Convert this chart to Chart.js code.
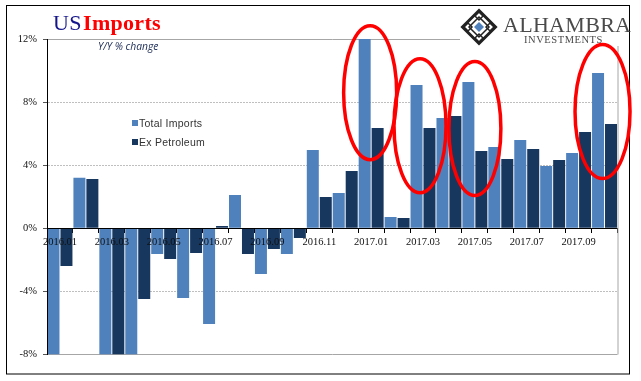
<!DOCTYPE html>
<html lang="en">
<head>
  <meta charset="UTF-8">
  <title>US Imports</title>
  <script src="https://cdn.jsdelivr.net/npm/chart.js"></script>
  <style>
    html, body { margin: 0; padding: 0; background: #fff; }
    #wrap { position: relative; width: 641px; height: 381px; overflow: hidden; }
    #wrap div { position: absolute; white-space: nowrap; }
    #title { left: 53px; top: 10px; font: bold 22px "Liberation Serif"; letter-spacing: 0.3px; word-spacing: -4.5px; }
    #title .us { color: #14148c; font-weight: normal; }
    #title .imp { color: #f00; }
    #sub { left: 98px; top: 39px; font: italic 10.3px "Open Sans"; color: #1a2a55; }
    .leg { left: 139px; font: 10.5px "Liberation Sans"; color: #333; letter-spacing: 0.25px; }
    .swatch { left: 132px; width: 6px; height: 6px; }
    #logo1 { left: 503px; top: 12px; font: 22px "Liberation Serif"; color: #4a4a4a; letter-spacing: 0.3px; }
    #logo2 { left: 524px; top: 34px; font: 10.5px "Liberation Serif"; color: #4a4a4a; letter-spacing: 0.55px; }
  </style>
</head>
<body>
  <div id="wrap">
    <canvas id="importsChart" width="641" height="381"></canvas>
    <div id="title"><span class="us">US</span> <span class="imp">Imports</span></div>
    <div id="sub">Y/Y % change</div>
    <div class="swatch" style="top:120px;background:#4f81bd"></div>
    <div class="leg" id="leg0" style="top:117px"></div>
    <div class="swatch" style="top:139px;background:#17375e"></div>
    <div class="leg" id="leg1" style="top:136px"></div>
    <div id="logo1">ALHAMBRA</div>
    <div id="logo2">INVESTMENTS</div>
  </div>

  <script>
    const months = ['2016.01','2016.02','2016.03','2016.04','2016.05','2016.06','2016.07','2016.08','2016.09','2016.10','2016.11','2016.12',
                    '2017.01','2017.02','2017.03','2017.04','2017.05','2017.06','2017.07','2017.08','2017.09','2017.10'];
    const totalImports = [-8, 3.2, -8, -8, -1.63, -4.42, -6.07, 2.11, -2.9, -1.63, 4.97, 2.24,
                          12, 0.72, 9.09, 6.99, 9.28, 5.16, 5.6, 3.95, 4.77, 9.85];
    const exPetroleum = [-2.39, 3.13, -8, -4.48, -1.94, -1.56, 0.15, -1.63, -1.31, -0.61, 1.98, 3.63,
                         6.36, 0.66, 6.36, 7.12, 4.9, 4.39, 5.03, 4.33, 6.1, 6.61];
    const seriesNames = ['Total Imports', 'Ex Petroleum'];

    // red hand-drawn circles: category, centre value, pixel nudge, radii
    const rings = [
      { month: '2017.01', value: 8.6, dx: -1, rx: 26.5, ry: 67 },
      { month: '2017.03', value: 6.5, dx: -3, rx: 26, ry: 67 },
      { month: '2017.05', value: 6.33, dx: 0, rx: 26, ry: 67 },
      { month: '2017.10', value: 7.4, dx: -2, rx: 27.5, ry: 67 }
    ];

    document.getElementById('leg0').textContent = seriesNames[0];
    document.getElementById('leg1').textContent = seriesNames[1];

    function drawLogo(c) {
      // white patch hides the top gridline behind the logo
      c.fillStyle = '#fff';
      c.fillRect(460, 7, 168, 39);
      const cx = 479, cy = 27;
      c.strokeStyle = '#222';
      const diamond = (r) => {
        c.beginPath();
        c.moveTo(cx, cy - r); c.lineTo(cx + r, cy); c.lineTo(cx, cy + r); c.lineTo(cx - r, cy);
        c.closePath();
      };
      c.lineWidth = 3;
      diamond(16.5); c.stroke();
      c.lineWidth = 1.5;
      diamond(10); c.stroke();
      [[0, -11], [11, 0], [0, 11], [-11, 0]].forEach(([dx, dy]) => {
        c.beginPath();
        c.moveTo(cx + dx - 4, cy + dy); c.lineTo(cx + dx, cy + dy - 4);
        c.lineTo(cx + dx + 4, cy + dy); c.lineTo(cx + dx, cy + dy + 4);
        c.closePath();
        c.stroke();
      });
      c.fillStyle = '#4f81bd';
      diamond(5); c.fill();
    }

    const extras = {
      id: 'extras',
      afterDraw(chart) {
        const c = chart.ctx, area = chart.chartArea, sx = chart.scales.x, sy = chart.scales.y;
        c.save();
        // outer frame
        c.strokeStyle = '#000';
        c.lineWidth = 1;
        c.strokeRect(6.5, 5.5, 623, 368.5);
        // right edge of the plot
        c.strokeStyle = '#a6a6a6';
        c.beginPath();
        c.moveTo(area.right + 0.5, area.top);
        c.lineTo(area.right + 0.5, area.bottom);
        c.stroke();
        drawLogo(c);
        c.strokeStyle = '#f00';
        c.lineWidth = 3.5;
        rings.forEach((r) => {
          c.beginPath();
          c.ellipse(sx.getPixelForValue(months.indexOf(r.month)) + r.dx, sy.getPixelForValue(r.value), r.rx, r.ry, 0, 0, Math.PI * 2);
          c.stroke();
        });
        c.restore();
      }
    };

    const ctx = document.getElementById('importsChart').getContext('2d');
    new Chart(ctx, {
      type: 'bar',
      data: {
        labels: months,
        datasets: [
          { label: seriesNames[0], data: totalImports, backgroundColor: '#4f81bd' },
          { label: seriesNames[1], data: exPetroleum, backgroundColor: '#17375e' }
        ]
      },
      options: {
        responsive: false,
        animation: false,
        layout: { padding: { left: 0, right: 23.5, top: 39, bottom: 26.5 } },
        datasets: { bar: { categoryPercentage: 1, barPercentage: 0.925 } },
        plugins: { legend: { display: false }, title: { display: false }, tooltip: { enabled: false } },
        scales: {
          x: {
            position: { y: 0 },
            grid: { offset: true, drawOnChartArea: false, color: '#000', tickLength: 4 },
            border: { color: '#000', z: 1 },
            ticks: {
              z: 1, padding: 4, color: '#111', maxRotation: 0, autoSkip: false,
              font: { family: 'Liberation Serif', size: 10.5 },
              callback: (v, i) => (i % 2 === 0 ? months[i] : '')
            }
          },
          y: {
            min: -8, max: 12,
            afterFit: (s) => { s.width = 47; },
            grid: {
              color: (c) => (c.tick.value === 12 || c.tick.value === -8 ? '#a6a6a6' : '#bfbfbf'),
              tickColor: '#555',
              tickLength: 4
            },
            border: {
              color: '#000',
              z: 1,
              dash: (c) => (c.tick && (c.tick.value === 12 || c.tick.value === -8) ? [] : [2, 1])
            },
            ticks: {
              stepSize: 4, padding: 6, color: '#111',
              font: { family: 'Liberation Serif', size: 10.5 },
              callback: (v) => v + '%'
            }
          }
        }
      },
      plugins: [extras]
    });
  </script>
</body>
</html>
